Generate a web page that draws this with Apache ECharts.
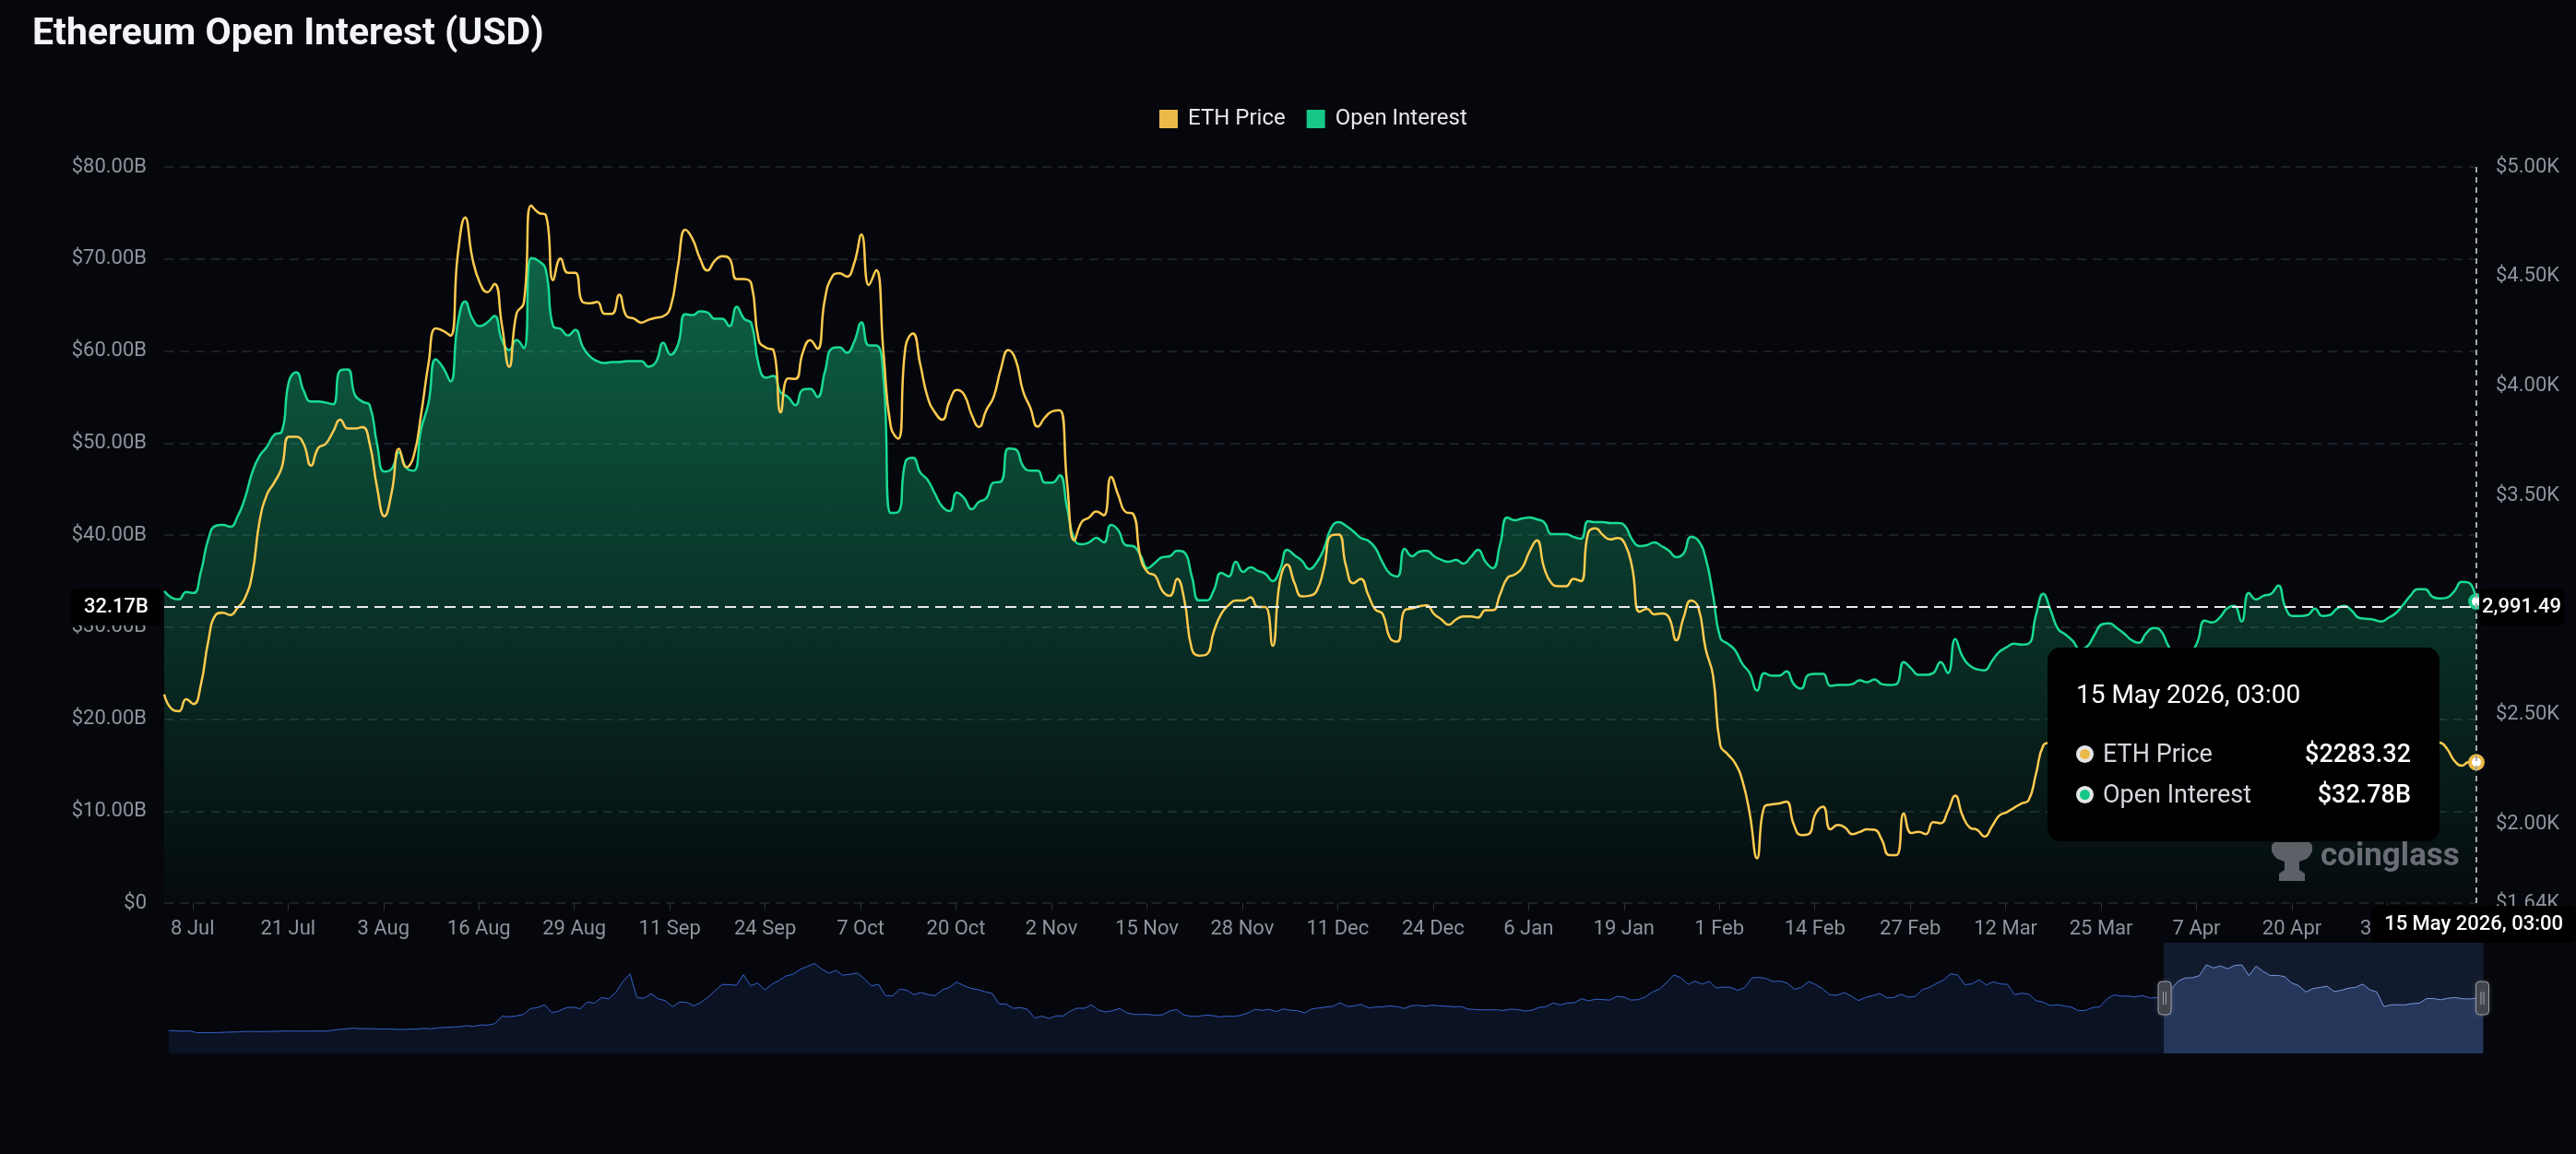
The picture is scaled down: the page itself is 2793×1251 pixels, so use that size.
<!DOCTYPE html>
<html>
<head>
<meta charset="utf-8">
<title>Ethereum Open Interest (USD)</title>
<script src="https://cdn.jsdelivr.net/npm/echarts@6/dist/echarts.min.js"></script>
<style>
  html, body { margin: 0; padding: 0; background: #05070c; }
  #chart { width: 2793px; height: 1251px; }
</style>
</head>
<body>
<div id="chart"></div>
<script>
// daily points, first at 4 Jul 2025 03:00 UTC, last at 15 May 2026 03:00 UTC
const dailyStart = '2025-07-04T03:00:00Z';

// ETH price, USD
const ethPrice = [
  2593, 2527, 2516, 2571, 2549, 2637, 2834, 2955, 2966, 2955,
  2988, 3032, 3142, 3384, 3505, 3560, 3626, 3769, 3769, 3736,
  3637, 3718, 3736, 3791, 3846, 3806, 3806, 3813, 3736, 3538,
  3406, 3516, 3714, 3630, 3681, 3870, 4100, 4263, 4252, 4230,
  4600, 4769, 4582, 4472, 4428, 4466, 4280, 4088, 4330, 4380,
  4824, 4791, 4780, 4483, 4582, 4517, 4517, 4384, 4378, 4384,
  4330, 4330, 4417, 4319, 4308, 4290, 4303, 4312, 4319, 4362,
  4549, 4714, 4670, 4582, 4527, 4571, 4593, 4582, 4488, 4488,
  4466, 4210, 4175, 4164, 3880, 4035, 4033, 4153, 4210, 4170,
  4395, 4500, 4515, 4500, 4560, 4692, 4461, 4530, 4150, 3813,
  3760, 4180, 4240, 4100, 3950, 3880, 3846, 3930, 3982, 3960,
  3870, 3813, 3890, 3950, 4080, 4164, 4120, 3978, 3901, 3815,
  3857, 3885, 3890, 3560, 3296, 3380, 3400, 3428, 3410, 3586,
  3500, 3425, 3417, 3220, 3150, 3135, 3065, 3043, 3120, 3020,
  2800, 2770, 2775, 2880, 2960, 3000, 3021, 3021, 3036, 2992,
  2992, 2815, 3110, 3186, 3100, 3040, 3043, 3065, 3170, 3318,
  3322, 3180, 3100, 3120, 3050, 2980, 2960, 2850, 2834, 2977,
  2985, 2995, 2999, 2960, 2935, 2911, 2935, 2949, 2949, 2944,
  2977, 2977, 3050, 3125, 3140, 3170, 3245, 3296, 3170, 3100,
  3087, 3087, 3120, 3110, 3330, 3351, 3320, 3300, 3307, 3280,
  3170, 2970, 2984, 2958, 2962, 2944, 2840, 2944, 3021, 2990,
  2800, 2680, 2360, 2320, 2280, 2200, 2050, 1845, 2080, 2091,
  2095, 2104, 2000, 1951, 1955, 2050, 2080, 1977, 1997, 1985,
  1955, 1965, 1977, 1975, 1930, 1860, 1860, 2050, 1960, 1966,
  1955, 2010, 2005, 2060, 2131, 2040, 1985, 1975, 1944, 1990,
  2040, 2055, 2075, 2095, 2110, 2230, 2360, 2375, 2390, 2365,
  2340, 2310, 2325, 2350, 2380, 2395, 2370, 2345, 2320, 2300,
  2315, 2340, 2330, 2290, 2260, 2250, 2275, 2310, 2350, 2370,
  2385, 2410, 2420, 2380, 2430, 2415, 2425, 2440, 2455, 2400,
  2370, 2360, 2365, 2385, 2360, 2365, 2380, 2390, 2375, 2350,
  2345, 2340, 2330, 2345, 2360, 2385, 2400, 2410, 2400, 2375,
  2373, 2345, 2290, 2268, 2285, 2283.32
];

// open interest, USD billions
const openInterest = [
  33.9, 33.2, 33.0, 33.8, 33.7, 36.0, 39.5, 41.0, 41.1, 40.9,
  42.0, 44.0, 46.8, 48.6, 49.6, 50.9, 51.2, 56.7, 57.7, 55.7,
  54.5, 54.5, 54.4, 54.2, 57.9, 58.0, 55.2, 54.5, 54.1, 49.9,
  46.9, 47.2, 49.0, 47.3, 47.0, 51.5, 54.3, 59.1, 58.2, 56.7,
  63.0, 65.4, 63.5, 62.7, 63.1, 63.8, 61.2, 60.1, 61.2, 60.3,
  70.1, 69.8, 68.8, 62.7, 62.4, 61.7, 62.3, 60.5, 59.4, 58.9,
  58.7, 58.8, 58.8, 58.9, 58.9, 58.9, 58.3, 58.8, 60.9, 59.6,
  60.7, 64.0, 63.9, 64.3, 64.2, 63.5, 63.5, 62.7, 64.8, 63.5,
  63.0, 58.5, 57.1, 57.3, 55.5, 55.0, 54.1, 55.8, 55.9, 55.0,
  57.7, 60.3, 60.4, 59.8, 61.0, 63.1, 60.6, 60.6, 57.0, 42.4,
  42.5, 48.0, 48.4, 46.8, 46.0, 44.5, 43.1, 42.6, 44.6, 44.0,
  42.8, 43.6, 44.0, 45.7, 45.8, 49.4, 49.3, 47.5, 47.0, 47.0,
  45.7, 45.7, 46.5, 43.0, 39.5, 39.0, 39.2, 39.7, 39.2, 41.1,
  40.5, 38.9, 38.8, 37.8, 36.4, 37.0, 37.6, 37.7, 38.3, 38.1,
  35.5, 32.9, 32.9, 34.0, 35.9, 35.5, 37.1, 36.0, 36.5, 36.1,
  35.8, 35.0, 36.2, 38.4, 37.8, 37.2, 36.3, 37.0, 38.5, 40.8,
  41.4, 41.0, 40.4, 39.7, 39.4, 38.6, 37.0, 35.8, 35.5, 38.5,
  37.7, 38.2, 38.3, 37.7, 37.3, 37.1, 37.3, 36.9, 37.6, 38.4,
  37.1, 36.4, 39.0, 41.9, 41.6, 41.8, 41.9, 41.7, 41.4, 40.1,
  40.1, 40.1, 39.8, 39.6, 41.5, 41.4, 41.4, 41.3, 41.3, 41.0,
  39.5, 38.8, 38.9, 39.2, 38.8, 38.3, 37.6, 38.0, 39.8, 39.4,
  37.5, 33.5, 28.8, 28.2, 27.5, 26.0, 25.0, 23.1, 25.0, 24.7,
  24.7, 25.2, 23.8, 23.3, 24.8, 24.9, 24.9, 23.6, 23.7, 23.7,
  23.8, 24.2, 24.0, 24.3, 23.8, 23.7, 23.8, 26.2, 25.5, 24.8,
  24.8, 25.0, 26.2, 25.0, 28.7, 26.8, 25.8, 25.4, 25.3, 26.3,
  27.3, 27.8, 28.2, 28.1, 28.2, 31.3, 33.6, 31.8, 29.8, 29.2,
  28.5, 27.6, 27.9, 29.2, 30.3, 30.4, 29.9, 29.3, 28.6, 28.3,
  29.3, 29.9, 29.6, 28.0, 26.8, 26.5, 27.0, 28.4, 30.7, 30.5,
  31.0, 32.0, 32.3, 30.6, 33.7, 33.0, 33.4, 33.6, 34.5, 32.1,
  31.2, 31.2, 31.3, 32.0, 31.2, 31.3, 32.0, 32.3, 31.8, 31.0,
  30.9, 30.8, 30.6, 31.0, 31.5, 32.4, 33.4, 34.1, 34.1, 33.3,
  33.1, 33.2, 33.9, 34.9, 34.8, 32.78
];

// weekly ETH price over the whole history (slider overview), first at 14 Feb 2020
const weeklyStart = '2020-02-14T03:00:00Z';
const weeklyPrice = [
  // 2020
  265, 260, 225, 245, 130, 135, 130, 140, 158, 172, 187, 212, 212, 200, 206, 220,
  240, 237, 230, 231, 226, 242, 233, 280, 345, 380, 435, 390, 400, 390, 370, 385,
  350, 345, 365, 365, 410, 385, 450, 475, 510, 520, 590, 545, 645, 625,
  // 2021
  730, 1220, 1170, 1230, 1330, 1710, 1780, 1960, 1450, 1540, 1770, 1810, 1700,
  2140, 2070, 2430, 2360, 2770, 3480, 4000, 2430, 2400, 2690, 2350, 2230, 1830,
  2150, 2120, 1890, 2120, 2460, 2890, 3300, 3280, 3240, 3940, 3210, 3400, 2930,
  3310, 3560, 3860, 3970, 4290, 4480, 4670, 4310, 4040, 4220, 3900, 3960, 4050, 3680,
  // 2022
  3200, 3310, 2560, 2550, 2990, 2920, 2620, 2770, 2620, 2560, 2940, 3110,
  3450, 3230, 3040, 2960, 2820, 2710, 2010, 2010, 1730, 1780, 1660, 1090, 1220,
  1060, 1230, 1230, 1540, 1740, 1730, 1960, 1610, 1490, 1580, 1720, 1430, 1330, 1330,
  1330, 1280, 1300, 1550, 1650, 1290, 1210, 1200, 1280, 1260, 1170, 1220, 1200,
  // 2023
  1270, 1420, 1660, 1600, 1660, 1510, 1690, 1610, 1570, 1430, 1680, 1750, 1820,
  1860, 2100, 1850, 1890, 1990, 1760, 1810, 1830, 1890, 1840, 1720, 1890, 1930,
  1870, 1940, 1890, 1870, 1830, 1850, 1680, 1650, 1630, 1630, 1630, 1590, 1670,
  1650, 1550, 1600, 1780, 1830, 2080, 1960, 2080, 2090, 2360, 2220, 2330, 2300,
  // 2024
  2270, 2520, 2470, 2270, 2300, 2480, 2800, 2990, 3430, 3920, 3740, 3300, 3510,
  3320, 3500, 3060, 3130, 3100, 2910, 3090, 3730, 3760, 3690, 3480, 3520, 3380,
  2980, 3100, 3500, 3280, 2990, 2610, 2590, 2760, 2530, 2240, 2440, 2560, 2700,
  2420, 2440, 2650, 2470, 2510, 2960, 3100, 3360, 3590, 4000, 3910, 3280, 3330,
  // 2025
  3610, 3260, 3470, 3330, 3300, 2620, 2720, 2660, 2240, 2140, 1910, 1970, 1890,
  1810, 1570, 1590, 1780, 1840, 2350, 2610, 2530, 2530, 2480, 2570, 2410, 2420,
  2593, 2955, 3505, 3718, 3736, 3870, 4582, 4380, 4517, 4319, 4549, 4582, 3880,
  4500, 4150, 3880, 3890, 3815, 3400, 3220, 2800, 3021, 3100, 3180, 2834, 2911,
  // 2026
  3050, 3100, 3320, 2958, 2800, 1845, 1955, 1965, 1960, 2040, 2075, 2365, 2370,
  2290, 2385, 2440, 2360, 2340, 2400, 2283.32
];

// x axis ticks, every 13 days
const tickDates = [
  '2025-07-08', '2025-07-21', '2025-08-03', '2025-08-16', '2025-08-29', '2025-09-11',
  '2025-09-24', '2025-10-07', '2025-10-20', '2025-11-02', '2025-11-15', '2025-11-28',
  '2025-12-11', '2025-12-24', '2026-01-06', '2026-01-19', '2026-02-01', '2026-02-14',
  '2026-02-27', '2026-03-12', '2026-03-25', '2026-04-07', '2026-04-20', '2026-05-03'
];

// where the crosshair sits (open interest axis value)
const pointerOI = 32.17;

const PRICE_COLOR = '#eab948';
const OI_COLOR = '#17c786';
const MONTHS = ['Jan', 'Feb', 'Mar', 'Apr', 'May', 'Jun', 'Jul', 'Aug', 'Sep', 'Oct', 'Nov', 'Dec'];
const DAY = 86400000;

const t0 = Date.parse(dailyStart);
const w0 = Date.parse(weeklyStart);
const tEnd = t0 + (ethPrice.length - 1) * DAY;
const priceSeries = ethPrice.map((v, i) => [t0 + i * DAY, v]);
const oiSeries = openInterest.map((v, i) => [t0 + i * DAY, v]);
const weeklySeries = weeklyPrice.map((v, i) => [w0 + i * 7 * DAY, v]);
const tickTs = tickDates.map(s => Date.parse(s + 'T00:00:00Z'));

const pad = n => (n < 10 ? '0' : '') + n;
const fmtDay = ts => {
  const d = new Date(ts);
  return d.getUTCDate() + ' ' + MONTHS[d.getUTCMonth()];
};
const fmtFull = ts => {
  const d = new Date(ts);
  return d.getUTCDate() + ' ' + MONTHS[d.getUTCMonth()] + ' ' + d.getUTCFullYear() +
    ', ' + pad(d.getUTCHours()) + ':' + pad(d.getUTCMinutes());
};

const chart = echarts.init(document.getElementById('chart'));

const tipRow = (color, name, value) =>
  '<div style="display:flex;justify-content:space-between;align-items:center;height:44px;">' +
  '<span style="display:flex;align-items:center;color:#d3d6dc;font-size:27px;">' +
  '<span style="display:inline-block;box-sizing:border-box;width:19px;height:19px;border-radius:50%;' +
  'background:' + color + ';border:4px solid #e4e6ea;margin-right:10px;"></span>' + name + '</span>' +
  '<span style="color:#fff;font-size:27px;font-weight:500;">' + value + '</span></div>';

const option = {
  backgroundColor: '#05070c',
  animation: false,
  textStyle: { fontFamily: 'Roboto, sans-serif' },
  title: {
    text: 'Ethereum Open Interest (USD)',
    left: 30,
    top: 12,
    textStyle: { color: '#f3f4f7', fontSize: 41, fontWeight: 'bold', fontFamily: 'Roboto' }
  },
  legend: {
    data: ['ETH Price', 'Open Interest'],
    top: 112,
    left: 1252,
    icon: 'rect',
    itemWidth: 20,
    itemHeight: 20,
    itemGap: 23,
    textStyle: { color: '#e6e8ec', fontSize: 24, padding: [0, 0, 0, 6] }
  },
  grid: { left: 178, right: 108, top: 181, bottom: 272, outerBoundsMode: 'none' },
  tooltip: {
    trigger: 'axis',
    triggerOn: 'none',
    alwaysShowContent: true,
    backgroundColor: '#000000',
    borderWidth: 0,
    borderRadius: 14,
    padding: [34, 31, 29, 31],
    extraCssText: 'box-shadow:none;width:363px;',
    textStyle: { color: '#fff', fontFamily: 'Roboto' },
    axisPointer: {
      type: 'cross',
      lineStyle: { color: '#a3a7ae', width: 2, type: [6, 5] },
      crossStyle: { color: '#e9eaec', width: 2, type: [12, 7] },
      label: {
        backgroundColor: '#000000',
        color: '#ffffff',
        fontSize: 22,
        fontWeight: 500,
        padding: [9, 14],
        borderRadius: 6
      }
    },
    position: function (point, params, dom, rect, size) {
      return [point[0] - size.contentSize[0] - 40, point[1] + 44];
    },
    formatter: function (params) {
      const byName = {};
      params.forEach(p => { byName[p.seriesName] = p.value[1]; });
      return '<div style="font-size:28px;line-height:34px;color:#fff;margin-bottom:25px;">' +
        fmtFull(params[0].value[0]) + '</div>' +
        tipRow(PRICE_COLOR, 'ETH Price', '$' + byName['ETH Price'].toFixed(2)) +
        tipRow(OI_COLOR, 'Open Interest', '$' + byName['Open Interest'].toFixed(2) + 'B');
    }
  },
  xAxis: {
    // timestamps on a value axis, labels placed on the 13-day tick dates
    type: 'value',
    min: w0,
    max: tEnd,
    axisLine: { show: false },
    axisTick: { show: true, customValues: tickTs, length: 8, lineStyle: { color: '#2c2f37' } },
    axisLabel: {
      customValues: tickTs,
      formatter: v => fmtDay(v),
      color: '#8f939b',
      fontSize: 22,
      margin: 17
    },
    splitLine: { show: false },
    axisPointer: { label: { formatter: p => fmtFull(p.value) } }
  },
  yAxis: [
    {
      type: 'value',
      position: 'left',
      min: 0,
      max: 80,
      interval: 10,
      axisLine: { show: false },
      axisTick: { show: false },
      axisLabel: {
        formatter: v => (v === 0 ? '$0' : '$' + v.toFixed(2) + 'B'),
        color: '#8f939b',
        fontSize: 22,
        margin: 19
      },
      splitLine: { lineStyle: { color: '#262930', width: 1.5, type: [10, 7] } },
      axisPointer: { label: { formatter: p => p.value.toFixed(2) + 'B' } }
    },
    {
      type: 'value',
      position: 'right',
      min: 1640.58,
      max: 5000,
      axisLine: { show: false },
      axisTick: { show: false },
      splitLine: { show: false },
      axisLabel: {
        formatter: v => '$' + (v / 1000).toFixed(2) + 'K',
        color: '#8f939b',
        fontSize: 22,
        margin: 21
      },
      axisPointer: {
        label: {
          padding: [9, 3],
          formatter: p => Number(p.value).toLocaleString('en-US', { minimumFractionDigits: 2, maximumFractionDigits: 2 })
        }
      }
    }
  ],
  dataZoom: [
    {
      type: 'slider',
      xAxisIndex: 0,
      startValue: t0,
      endValue: tEnd,
      left: 180,
      right: 103,
      bottom: 109,
      height: 120,
      showDetail: false,
      brushSelect: false,
      backgroundColor: 'transparent',
      borderColor: 'transparent',
      fillerColor: 'rgba(70, 100, 170, 0.22)',
      dataBackground: {
        lineStyle: { color: '#3763cc', width: 1, opacity: 1 },
        areaStyle: { color: '#0b1224', opacity: 1 }
      },
      selectedDataBackground: {
        lineStyle: { color: '#8aa6ea', width: 1, opacity: 1 },
        areaStyle: { color: '#1d2946', opacity: 1 }
      },
      handleIcon: 'path://M4,0 L10,0 Q14,0 14,4 L14,32 Q14,36 10,36 L4,36 Q0,36 0,32 L0,4 Q0,0 4,0 Z M5.5,11 L5.5,25 M8.5,11 L8.5,25',
      handleSize: '30%',
      handleStyle: { color: '#40434b', borderColor: '#9da0a8', borderWidth: 1, shadowBlur: 6, shadowColor: 'rgba(255,255,255,0.15)' },
      moveHandleSize: 0
    }
  ],
  series: [
    {
      // full history, only feeds the slider overview
      name: 'ETH Price history',
      type: 'line',
      yAxisIndex: 1,
      data: weeklySeries,
      showSymbol: false,
      symbol: 'none',
      lineStyle: { opacity: 0 },
      silent: true,
      tooltip: { show: false },
      emphasis: { disabled: true },
      z: 0
    },
    {
      name: 'Open Interest',
      type: 'line',
      yAxisIndex: 0,
      data: oiSeries,
      smooth: true,
      showSymbol: false,
      symbol: 'circle',
      symbolSize: 14,
      color: OI_COLOR,
      lineStyle: { width: 2.5, color: OI_COLOR },
      areaStyle: {
        color: new echarts.graphic.LinearGradient(0, 0, 0, 1, [
          { offset: 0, color: 'rgba(23, 199, 134, 0.62)' },
          { offset: 1, color: 'rgba(23, 199, 134, 0.02)' }
        ])
      },
      emphasis: {
        scale: false,
        lineStyle: { width: 2.5 },
        itemStyle: { color: '#ffffff', borderColor: OI_COLOR, borderWidth: 4 }
      },
      z: 2
    },
    {
      name: 'ETH Price',
      type: 'line',
      yAxisIndex: 1,
      data: priceSeries,
      smooth: true,
      showSymbol: false,
      symbol: 'circle',
      symbolSize: 14,
      color: PRICE_COLOR,
      lineStyle: { width: 2.5, color: PRICE_COLOR },
      emphasis: {
        scale: false,
        lineStyle: { width: 2.5 },
        itemStyle: { color: '#ffffff', borderColor: PRICE_COLOR, borderWidth: 4 }
      },
      z: 3
    }
  ],
  graphic: [
    {
      // coinglass watermark
      type: 'polygon',
      x: 2463,
      y: 913,
      shape: {
        points: [[3, 0], [41, 0], [44, 3], [44, 10], [41, 15], [38, 18], [30, 21], [30, 30], [36, 34],
          [36, 42], [8, 42], [8, 34], [14, 30], [14, 21], [6, 18], [3, 15], [0, 10], [0, 3]]
      },
      style: { fill: '#5d6067' },
      silent: true,
      z: 5
    },
    {
      type: 'text',
      x: 2516,
      y: 912,
      style: { text: 'coinglass', fill: '#6a6d74', font: 'bold 35px Roboto' },
      silent: true,
      z: 5
    }
  ]
};

chart.setOption(option);

const pt = chart.convertToPixel({ xAxisIndex: 0, yAxisIndex: 0 }, [tEnd, pointerOI]);
chart.dispatchAction({ type: 'showTip', x: pt[0] - 0.5, y: pt[1] });
</script>
</body>
</html>
